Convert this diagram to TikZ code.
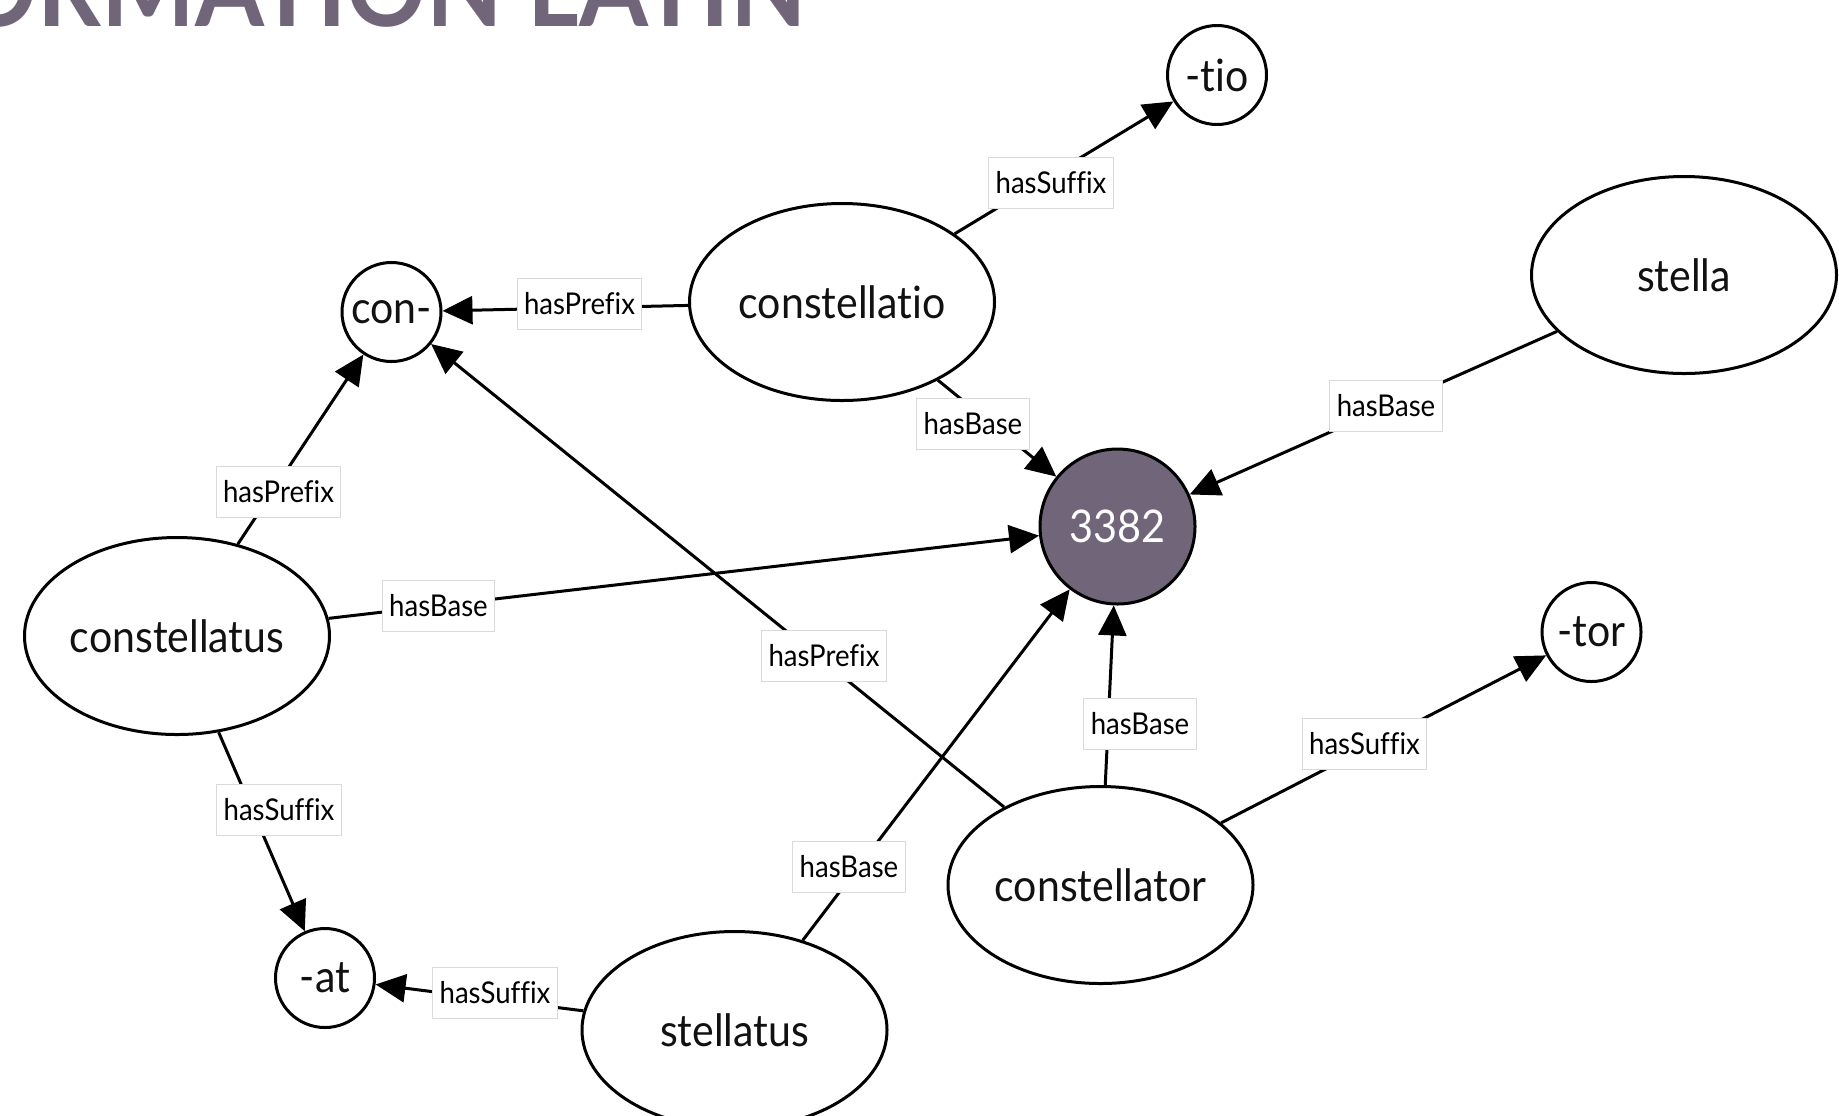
\documentclass[tikz,border=0pt]{standalone}
\usepackage{fontspec}
\setmainfont{Lato}[FakeStretch=0.92,Ligatures={NoCommon}]
\usetikzlibrary{arrows.meta,shapes.geometric}
\definecolor{plum}{HTML}{716679}
\definecolor{lblline}{HTML}{DADADA}
\definecolor{ink}{HTML}{111111}

\begin{document}
\begin{tikzpicture}[x=0.5pt,y=-0.5pt,
  every node/.style={inner sep=0pt},
  word/.style={draw, line width=1.5pt, ellipse, minimum width=152.5pt,
    minimum height=98.5pt, text=ink, font=\fontsize{22.3}{26}\selectfont},
  affix/.style={draw, line width=1.5pt, circle, minimum size=49.5pt,
    text=ink, font=\fontsize{22.3}{26}\selectfont},
  root/.style={draw=black, fill=plum, circle, line width=1.5pt,
    minimum size=77.5pt, text=white, font=\fontsize{22.5}{26}\selectfont},
  rel/.style={draw=lblline, line width=0.5pt, fill=white, inner xsep=3.5pt,
    minimum height=25.5pt, text=black, font=\fontsize{15}{18}\selectfont},
  link/.style={line width=1.5pt, -{Triangle[length=15pt,width=14pt]}},
]
\useasboundingbox (0,0) rectangle (1839,1115);
\clip (0,0) rectangle (1839,1115);
\fill[white] (0,0) rectangle (1839,1115);

% heading, only its lower part lies on the page
\node[anchor=base east, text=plum, font=\fontsize{54}{56}\selectfont\bfseries]
  (heading) at (807,26) {ORMATION LATIN};

% nodes
\node[root]  (r3382)        at (1117.5,526.5) {3382};
\node[word]  (constellatio) at (842,302)      {constellatio};
\node[word]  (stella)       at (1684,275)     {stella};
\node[word]  (constellatus) at (177,636)      {constellatus};
\node[word]  (constellator) at (1100.5,885)   {constellator};
\node[word]  (stellatus)    at (734.5,1030)   {stellatus};
\node[affix] (tio)          at (1217,75)      {-tio};
\node[affix] (con)          at (391.5,312)    {con-};
\node[affix] (tor)          at (1591.5,632)   {-tor};
\node[affix] (at)           at (325,978)      {-at};

% relations
\draw[link] (constellatio) -- (tio);
\draw[link] (constellatio) -- (con);
\draw[link] (constellatio) -- (r3382);
\draw[link] (stella)       -- (r3382);
\draw[link] (constellatus) -- (con);
\draw[link] (constellatus) -- (r3382);
\draw[link] (constellatus) -- (at);
\draw[link] (constellator) -- (con);
\draw[link] (constellator) -- (r3382);
\draw[link] (constellator) -- (tor);
\draw[link] (stellatus)    -- (r3382);
\draw[link] (stellatus)    -- (at);

% relation labels
\node[rel] (l1)  at (1051,183)   {hasSuffix};
\node[rel] (l2)  at (579.5,304)  {hasPrefix};
\node[rel] (l3)  at (973,424)    {hasBase};
\node[rel] (l4)  at (1386,406)   {hasBase};
\node[rel] (l5)  at (278.5,492)  {hasPrefix};
\node[rel] (l6)  at (438.5,605.5){hasBase};
\node[rel] (l7)  at (824,656)    {hasPrefix};
\node[rel] (l8)  at (1140,724)   {hasBase};
\node[rel] (l9)  at (1364.5,744) {hasSuffix};
\node[rel] (l10) at (279,809.5)  {hasSuffix};
\node[rel] (l11) at (849,867)    {hasBase};
\node[rel] (l12) at (495,993)    {hasSuffix};
\end{tikzpicture}
\end{document}
